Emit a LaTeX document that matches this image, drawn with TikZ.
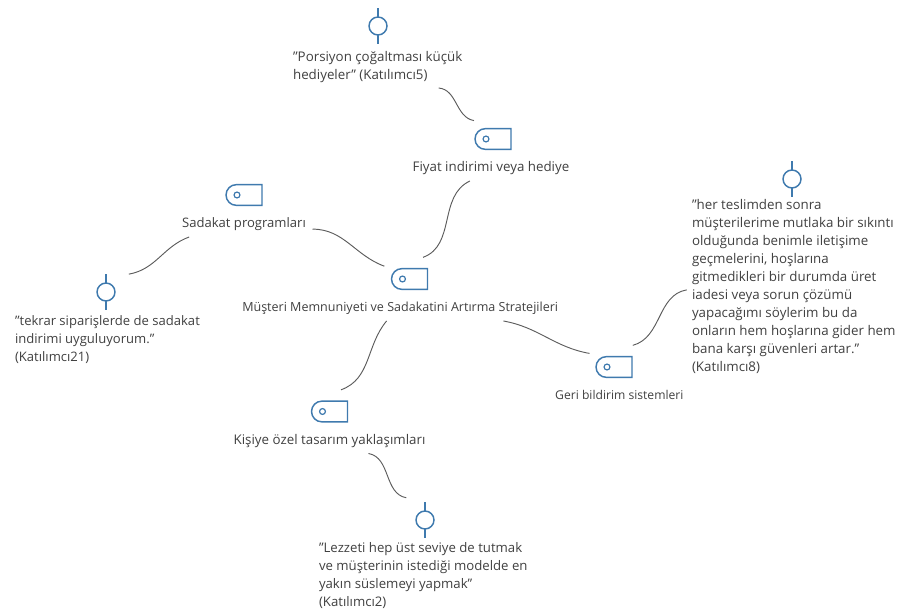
\documentclass[tikz,border=0pt]{standalone}
\usepackage{fontspec}
\setmainfont{Open Sans}
\usetikzlibrary{positioning}
\usetikzlibrary{shapes.misc}

\definecolor{iconblue}{HTML}{3F7AAE}
\definecolor{textgray}{HTML}{404040}
\definecolor{linkgray}{HTML}{5C5C5C}

\tikzset{
  code/.style={rounded rectangle, rounded rectangle right arc=none, draw=iconblue, line width=1.1pt,
    minimum width=27pt, minimum height=15.5pt, inner sep=0pt, outer sep=8.5pt,
    path picture={\draw[iconblue, line width=.9pt] ([xshift=8.25pt]path picture bounding box.west) circle (2.2pt);}},
  case/.style={circle, draw=iconblue, line width=1.1pt, minimum size=13.5pt, inner sep=0pt, outer sep=15pt,
    append after command={([yshift=6.75pt]\tikzlastnode.center) edge[stem] +(0pt,7pt) ([yshift=-6.75pt]\tikzlastnode.center) edge[stem] +(0pt,-7pt)}},
  stem/.style={draw=iconblue, line width=1.1pt},
  textsize/.style={font=\fontsize{#1}{13.5}\selectfont},
  codename/.style={text=textgray, inner sep=0pt, text height=7pt, text depth=2pt, outer sep=5pt},
  quote/.style={text=textgray, align=left, inner sep=0pt, outer sep=4pt},
  link/.style={draw=linkgray, line width=.7pt},
  node distance=12.5pt
}

\begin{document}
\begin{tikzpicture}[x=.75pt, y=-.75pt]
  \useasboundingbox (0,0) rectangle (897,613);

  \node[code]                                      (strateji) at (409.5,279) {};
  \node[codename, textsize=9.4, below=of strateji.center, xshift=-7pt] (stratejiname) {Müşteri Memnuniyeti ve Sadakatini Artırma Stratejileri};
  \node[code]                                      (fiyat) at (493,139) {};
  \node[codename, textsize=10, below=of fiyat.center, xshift=-1.5pt] (fiyatname) {Fiyat indirimi veya hediye};
  \node[code]                                      (sadakat) at (244,195) {};
  \node[codename, textsize=9.8, below=of sadakat.center]             (sadakatname) {Sadakat programları};
  \node[code]                                      (kisiye) at (329.5,411.5) {};
  \node[codename, textsize=10, below=of kisiye.center]              (kisiyename) {Kişiye özel tasarım yaklaşımları};
  \node[code]                                      (geri) at (614,367) {};
  \node[codename, textsize=9.1, below=of geri.center, xshift=4pt]    (geriname) {Geri bildirim sistemleri};

  \node[case]                                      (c1) at (378,26) {};
  \node[quote, textsize=10, below right=15pt and -67.7pt of c1.center] (q1) {"Porsiyon çoğaltması küçük\\hediyeler" (Katılımcı5)};
  \node[case]                                      (c2) at (106,292) {};
  \node[quote, textsize=9.8, below right=13.5pt and -72.2pt of c2.center] (q2) {"tekrar siparişlerde de sadakat\\indirimi uyguluyorum."\\(Katılımcı21)};
  \node[case]                                      (c3) at (792,179) {};
  \node[quote, textsize=10, below right=11pt and -79pt of c3.center] (q3) {"her teslimden sonra\\müşterilerime mutlaka bir sıkıntı\\olduğunda benimle iletişime\\geçmelerini, hoşlarına\\gitmedikleri bir durumda üret\\iadesi veya sorun çözümü\\yapacağımı söylerim bu da\\onların hem hoşlarına gider hem\\bana karşı güvenleri artar."\\(Katılımcı8)};
  \node[case]                                      (c4) at (425,520) {};
  \node[quote, textsize=9.9, below right=12.5pt and -83.5pt of c4.center] (q4) {"Lezzeti hep üst seviye de tutmak\\ve müşterinin istediği modelde en\\yakın süslemeyi yapmak"\\(Katılımcı2)};

  \draw[link] (q1.-19) to[out=-5, in=170] (fiyat.136);
  \draw[link] (fiyatname.-149) to[out=205, in=20] (strateji.58);
  \draw[link] (sadakatname.-4) to[out=0, in=160] (strateji.153);
  \draw[link] (stratejiname.-137) to[out=-130, in=20] (kisiye.62);
  \draw[link] (stratejiname.-7) to[out=-10, in=170] (geri.151);
  \draw[link] (geri.49) to[out=15, in=190] (q3.182);
  \draw[link] (sadakatname.-167) to[out=200, in=10] (c2.38);
  \draw[link] (kisiyename.-18) to[out=-10, in=170] (c4.130);
\end{tikzpicture}
\end{document}
